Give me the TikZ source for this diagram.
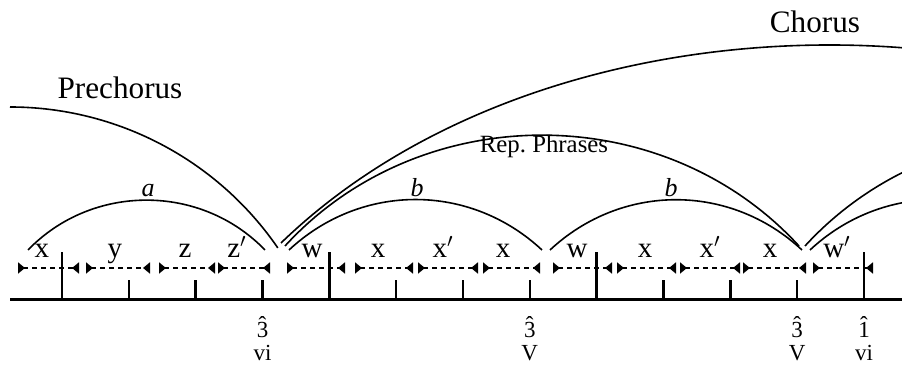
\documentclass[tikz,border=0pt]{standalone}
\usepackage{fontspec}
\setmainfont{Liberation Serif}
\usetikzlibrary{arrows.meta}
\newcommand\hatdig[1]{\ooalign{#1\cr\hidewidth\raisebox{0.26em}{\char"02C6}\hidewidth\cr}}
\begin{document}
\begin{tikzpicture}[x=0.5pt,y=0.5pt,
  segline/.style={dash pattern=on 2.5pt off 2pt, line width=1pt,
    {Triangle[reversed,length=3.5pt,width=5.5pt]}-{Triangle[reversed,length=3.5pt,width=5.5pt]}},
  arcline/.style={line width=0.8pt},
  mainline/.style={line width=1.5pt},
  barstroke/.style={line width=1.3pt},
  seglbl/.style={font=\fontsize{14.5}{17}\selectfont, anchor=base, inner sep=0pt},
  arclbl/.style={font=\fontsize{13}{15}\selectfont\itshape, anchor=base, inner sep=0pt},
  biglbl/.style={font=\fontsize{15.6}{18}\selectfont, anchor=base, inner sep=0pt},
  replbl/.style={font=\fontsize{12.4}{14}\selectfont, anchor=base, inner sep=0pt},
  ticklbl/.style={font=\fontsize{11.5}{13}\selectfont, anchor=base, inner sep=0pt}]
\clip (0,0) rectangle (902,368);

% main time line
\coordinate (m0) at (10,68);
\coordinate (m1) at (902,68);
\draw[mainline] (m0) -- (m1);

% ticks
\foreach \k in {0,...,12}{
  \pgfmathsetmacro{\xx}{62+66.83*\k}
  \coordinate (tb\k) at (\xx,68);
}
\foreach \k in {0,4,8,12}{
  \pgfmathsetmacro{\xx}{62+66.83*\k}
  \coordinate (tt\k) at (\xx,116);
  \draw[barstroke] (tb\k) -- (tt\k);
}
\foreach \k in {1,2,3,5,6,7,9,10,11}{
  \pgfmathsetmacro{\xx}{62+66.83*\k}
  \coordinate (tt\k) at (\xx,88);
  \draw[barstroke] (tb\k) -- (tt\k);
}

% dashed segments with labels
\foreach \i/\a/\b/\c/\t in {1/18/79/42/x, 2/86/150/115/y, 3/159/215/185/z, 4/218/270/237/z$'$,
  5/287/345/312/w, 6/355/413/378/x, 7/418/478/443/x$'$, 8/483/540/503/x,
  9/553/612/577/w, 10/617/676/645/x, 11/680/740/710/x$'$, 12/743/806/770/x, 13/813/873/837/w$'$}{
  \coordinate (s\i a) at (\a,100);
  \coordinate (s\i b) at (\b,100);
  \draw[segline] (s\i a) -- (s\i b);
  \node[seglbl] (l\i) at (\c,110) {\t};
}

% tick labels
\node[ticklbl] (h3) at (262.5,30) {\hatdig{3}};
\node[ticklbl] (h7) at (529.8,30) {\hatdig{3}};
\node[ticklbl] (h11) at (797.1,30) {\hatdig{3}};
\node[ticklbl] (h12) at (864,30) {\hatdig{1}};
\node[ticklbl] (r3) at (262.5,7) {vi};
\node[ticklbl] (r7) at (529.8,7) {V};
\node[ticklbl] (r11) at (797.1,7) {V};
\node[ticklbl] (r12) at (864,7) {vi};

% phrase arcs
\coordinate (a0) at (28,118);   \coordinate (a1) at (265,118);
\coordinate (b0) at (289,118);  \coordinate (b1) at (542,118);
\coordinate (c0) at (550,118);  \coordinate (c1) at (802,118);
\coordinate (d0) at (810,118);  \coordinate (d1) at (1063,118);
\draw[arcline] (a0) to[bend left=46] (a1);
\draw[arcline] (b0) to[bend left=43] (b1);
\draw[arcline] (c0) to[bend left=43] (c1);
\draw[arcline] (d0) to[bend left=43] (d1);
\node[arclbl] (la) at (148,171) {a};
\node[arclbl] (lb) at (417,171) {b};
\node[arclbl] (lc) at (671,171) {b};

% repeated phrases
\coordinate (rp0) at (285,122); \coordinate (rp1) at (799,122);
\coordinate (rq0) at (805,122); \coordinate (rq1) at (1318,122);
\draw[arcline] (rp0) to[bend left=47.5] (rp1);
\draw[arcline] (rq0) to[bend left=47.5] (rq1);
\node[replbl] (lrep) at (544,215) {Rep.\ Phrases};

% prechorus
\coordinate (pc0) at (10,261);
\draw[arcline] (pc0) arc[start angle=90, end angle=34.5, radius=325] coordinate (pc1);
\node[biglbl] (lpre) at (120,269) {Prechorus};

% chorus
\coordinate (ch0) at (281,125);
\coordinate (ch1) at (554,389);
\coordinate (ch2) at (1105,389);
\coordinate (ch3) at (1378,125);
\draw[arcline] (ch0) .. controls (ch1) and (ch2) .. (ch3);
\node[biglbl] (lch) at (815,335) {Chorus};
\end{tikzpicture}
\end{document}
